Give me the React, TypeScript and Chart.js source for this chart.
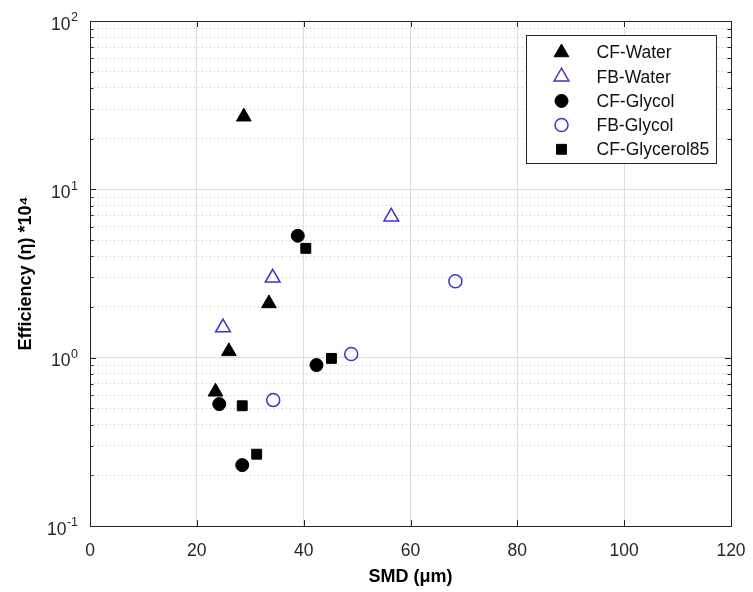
import React, { useEffect, useRef } from 'react';
import { Chart, registerables } from 'chart.js';
import { drawPoint } from 'chart.js/helpers';

Chart.register(...registerables);

// ---- data ----
const seriesNames = ['CF-Water', 'FB-Water', 'CF-Glycol', 'FB-Glycol', 'CF-Glycerol85'];
const cfWaterSMD = [28.8, 33.5, 26.0, 23.5];
const cfWaterEff = [27.0, 2.1, 1.09, 0.627];
const fbWaterSMD = [56.4, 34.2, 24.9];
const fbWaterEff = [6.87, 2.98, 1.51];
const cfGlycolSMD = [38.9, 42.4, 24.2, 28.5];
const cfGlycolEff = [5.3, 0.904, 0.53, 0.23];
const fbGlycolSMD = [68.4, 48.9, 34.3];
const fbGlycolEff = [2.84, 1.05, 0.56];
const cfGlycerolSMD = [40.4, 45.2, 28.5, 31.2];
const cfGlycerolEff = [4.46, 0.99, 0.518, 0.267];

const xTickValues = [0, 20, 40, 60, 80, 100, 120];
const yDecades = [0.1, 1, 10, 100];
const yLabelBase = '10';
const yLabelExponents = ['-1', '0', '1', '2'];
const xTitle = 'SMD (μm)';
const yTitle = 'Efficiency (η) *10⁴';

const BLUE = '#3a36c9';
const AXIS = '#262626';
const FONT = "'Liberation Sans', Arial, Helvetica, sans-serif";

const toPts = (xs: number[], ys: number[]) => xs.map((x, i) => ({ x, y: ys[i] }));

// minor + major log ticks between the decades
const yTickValues: number[] = [];
for (let d = 0; d < yDecades.length - 1; d++) {
  for (let k = 1; k <= 9; k++) yTickValues.push(+(yDecades[d] * k).toPrecision(6));
}
yTickValues.push(yDecades[yDecades.length - 1]);

const decadeIndex = (v: number) => yDecades.findIndex((d) => Math.abs(d - v) / d < 1e-6);

const framePlugin = {
  id: 'frame',
  afterDraw(chart: any) {
    const { ctx, chartArea: a, scales } = chart;
    const xs = scales.x;
    const ys = scales.y;
    ctx.save();
    ctx.strokeStyle = AXIS;
    ctx.lineWidth = 1;
    ctx.beginPath();
    xs.ticks.forEach((t: any) => {
      const px = Math.round(xs.getPixelForValue(t.value)) + 0.5;
      ctx.moveTo(px, a.bottom);
      ctx.lineTo(px, a.bottom - 6);
      ctx.moveTo(px, a.top);
      ctx.lineTo(px, a.top + 6);
    });
    ys.ticks.forEach((t: any) => {
      const py = Math.round(ys.getPixelForValue(t.value)) + 0.5;
      const len = decadeIndex(t.value) >= 0 ? 6 : 3.5;
      ctx.moveTo(a.left, py);
      ctx.lineTo(a.left + len, py);
      ctx.moveTo(a.right, py);
      ctx.lineTo(a.right - len, py);
    });
    ctx.stroke();
    ctx.strokeRect(Math.round(a.left) + 0.5, Math.round(a.top) + 0.5, Math.round(a.right - a.left), Math.round(a.bottom - a.top));

    // y tick labels: 10 with a raised exponent
    ctx.fillStyle = AXIS;
    ctx.textBaseline = 'middle';
    ctx.textAlign = 'left';
    const baseFont = `17.5px ${FONT}`;
    const expFont = `12.5px ${FONT}`;
    yDecades.forEach((d, i) => {
      const py = ys.getPixelForValue(d);
      ctx.font = baseFont;
      const wb = ctx.measureText(yLabelBase).width;
      ctx.font = expFont;
      const we = ctx.measureText(yLabelExponents[i]).width;
      const right = a.left - 12;
      const x0 = right - we - wb - 0.5;
      ctx.font = baseFont;
      ctx.fillText(yLabelBase, x0, py + 4);
      ctx.font = expFont;
      ctx.fillText(yLabelExponents[i], x0 + wb + 0.5, py - 3);
    });

    // legend box (inside the plot, top right)
    const bw = 190;
    const bh = 128;
    const bx = Math.round(a.right - 15 - bw) + 0.5;
    const by = Math.round(a.top + 14) + 0.5;
    ctx.fillStyle = '#ffffff';
    ctx.fillRect(bx, by, bw, bh);
    ctx.strokeStyle = AXIS;
    ctx.lineWidth = 1;
    ctx.strokeRect(bx, by, bw, bh);
    ctx.font = `17.5px ${FONT}`;
    ctx.textBaseline = 'middle';
    ctx.textAlign = 'left';
    chart.data.datasets.forEach((ds: any, i: number) => {
      const cy = by + 17 + i * 24.2;
      ctx.save();
      ctx.fillStyle = ds.backgroundColor;
      ctx.strokeStyle = ds.borderColor;
      ctx.lineWidth = ds.borderWidth;
      drawPoint(ctx, { pointStyle: ds.pointStyle, radius: ds.pointRadius, rotation: 0, borderWidth: ds.borderWidth }, bx + 35, cy);
      ctx.restore();
      ctx.fillStyle = '#111111';
      ctx.fillText(ds.label, bx + 70, cy + 1);
    });
    ctx.restore();
  },
};

export default function App() {
  const ref = useRef<HTMLCanvasElement | null>(null);

  useEffect(() => {
    document.body.style.margin = '0';
    if (!ref.current) return;
    const chart = new Chart(ref.current, {
      type: 'scatter',
      data: {
        datasets: [
          {
            label: seriesNames[0],
            data: toPts(cfWaterSMD, cfWaterEff),
            pointStyle: 'triangle',
            pointRadius: 8.5,
            backgroundColor: '#000000',
            borderColor: '#000000',
            borderWidth: 1,
          },
          {
            label: seriesNames[1],
            data: toPts(fbWaterSMD, fbWaterEff),
            pointStyle: 'triangle',
            pointRadius: 8.5,
            backgroundColor: 'rgba(0,0,0,0)',
            borderColor: BLUE,
            borderWidth: 1.5,
          },
          {
            label: seriesNames[2],
            data: toPts(cfGlycolSMD, cfGlycolEff),
            pointStyle: 'circle',
            pointRadius: 6.5,
            backgroundColor: '#000000',
            borderColor: '#000000',
            borderWidth: 1,
          },
          {
            label: seriesNames[3],
            data: toPts(fbGlycolSMD, fbGlycolEff),
            pointStyle: 'circle',
            pointRadius: 6.5,
            backgroundColor: 'rgba(0,0,0,0)',
            borderColor: BLUE,
            borderWidth: 1.5,
          },
          {
            label: seriesNames[4],
            data: toPts(cfGlycerolSMD, cfGlycerolEff),
            pointStyle: 'rect',
            pointRadius: 7,
            backgroundColor: '#000000',
            borderColor: '#000000',
            borderWidth: 1,
          },
        ] as any,
      },
      options: {
        responsive: false,
        animation: false,
        devicePixelRatio: 1,
        layout: { padding: { left: 0, right: 22, top: 21, bottom: 0 } },
        plugins: { legend: { display: false }, tooltip: { enabled: false } },
        scales: {
          x: {
            type: 'linear',
            min: 0,
            max: 120,
            afterBuildTicks: (s: any) => {
              s.ticks = xTickValues.map((v) => ({ value: v }));
            },
            afterFit: (s: any) => {
              s.height = 66;
              s.paddingLeft = 0;
              s.paddingRight = 0;
            },
            ticks: {
              autoSkip: false,
              color: AXIS,
              padding: 15,
              font: { family: FONT, size: 17.5 },
              callback: (v: any) => String(v),
            },
            grid: { drawTicks: false, color: '#dedede', lineWidth: 1 },
            border: { display: false },
            title: {
              display: true,
              text: xTitle,
              color: '#000000',
              font: { family: FONT, size: 18, weight: 'bold' },
              padding: { top: 0, bottom: 4 },
            },
          },
          y: {
            type: 'logarithmic',
            min: 0.1,
            max: 100,
            afterBuildTicks: (s: any) => {
              s.ticks = yTickValues.map((v) => ({ value: v, major: decadeIndex(v) >= 0 }));
            },
            afterFit: (s: any) => {
              s.width = 90;
              s.paddingTop = 0;
              s.paddingBottom = 0;
            },
            ticks: { display: false, autoSkip: false },
            grid: {
              drawTicks: false,
              lineWidth: 1,
              color: (c: any) => (c.tick && decadeIndex(c.tick.value) < 0 ? '#bdbdbd' : '#dedede'),
            },
            border: {
              display: false,
              dash: (c: any) => (c.tick && decadeIndex(c.tick.value) < 0 ? [1, 3] : []),
            },
            title: {
              display: true,
              text: yTitle,
              color: '#000000',
              font: { family: FONT, size: 18, weight: 'bold' },
              padding: { top: 15, bottom: 0 },
            },
          },
        },
      } as any,
      plugins: [framePlugin],
    });
    return () => chart.destroy();
  }, []);

  return (
    <div style={{ width: 753, height: 592, background: '#ffffff' }}>
      <canvas ref={ref} width={753} height={592} />
    </div>
  );
}
